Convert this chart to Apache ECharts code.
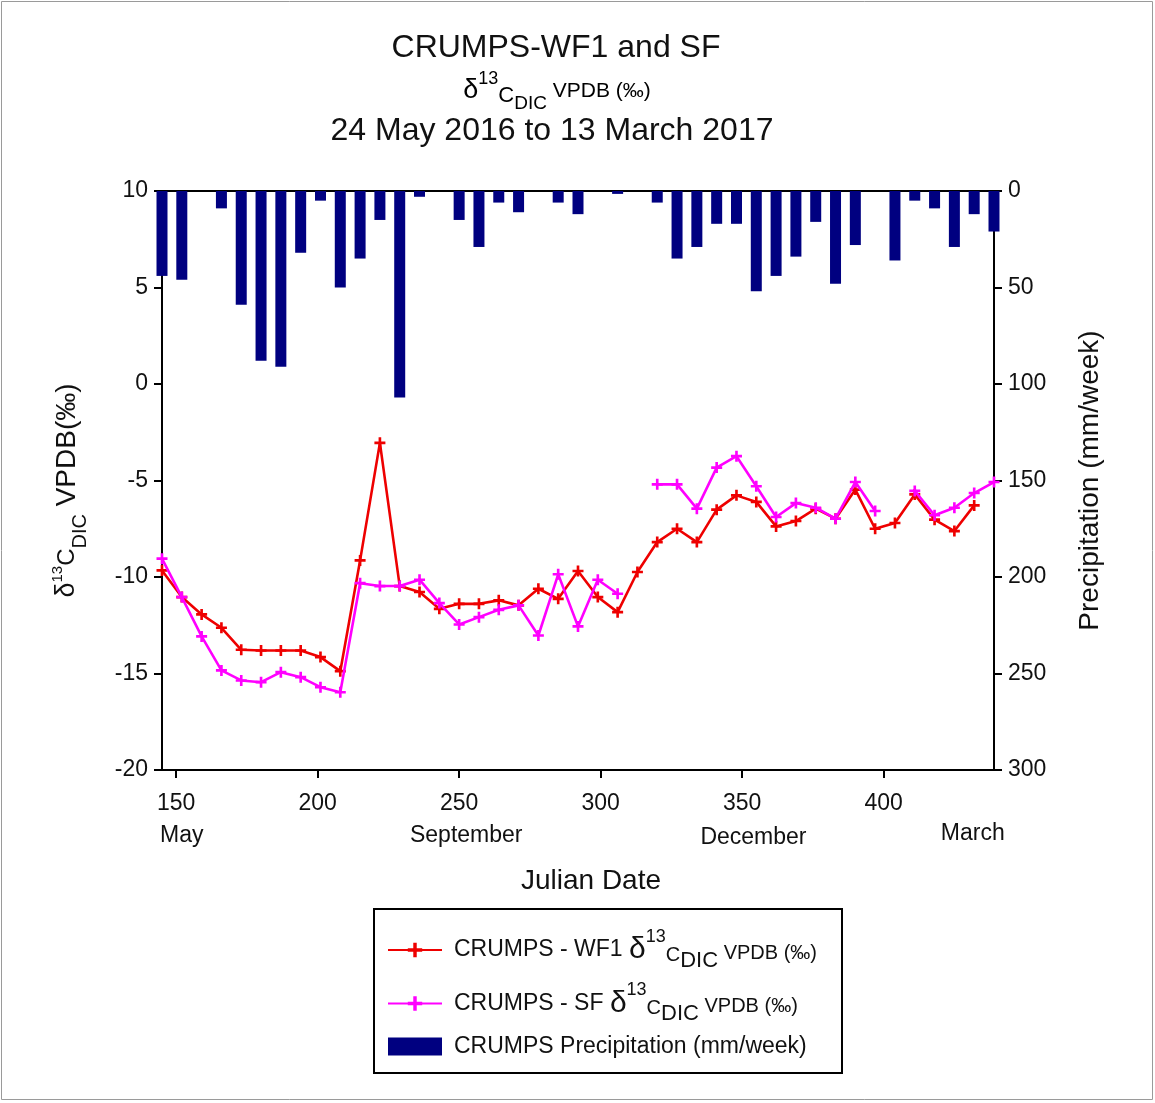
<!DOCTYPE html>
<html>
<head>
<meta charset="utf-8">
<title>CRUMPS-WF1 and SF</title>
<script src="https://cdn.jsdelivr.net/npm/echarts@6/dist/echarts.min.js"></script>
<style>
  html, body { margin: 0; padding: 0; background: #fff; }
  #chart { width: 1155px; height: 1103px; }
</style>
</head>
<body>
<div id="chart"></div>
<script>
// Julian day of each weekly sample (day 1 = 1 Jan 2016)
const weekDays = [145, 152, 159, 166, 173, 180, 187, 194, 201, 208, 215, 222, 229, 236, 243,
  250, 257, 264, 271, 278, 285, 292, 299, 306, 313, 320, 327, 334, 341, 348, 355, 362,
  369, 376, 383, 390, 397, 404, 411, 418, 425, 432, 439];

// Weekly precipitation, mm/week
const precipitation = [44, 46, 0, 9, 59, 88, 91, 32, 5, 50, 35, 15, 107, 3, 0,
  15, 29, 6, 11, 0, 6, 12, 0, 1.5, 0, 6, 35, 29, 17, 17, 52, 44,
  34, 16, 48, 28, 0, 36, 5, 9, 29, 12, 21];

// δ13C DIC (‰ VPDB), WF1 site (no sample on the last date)
const wf1 = [-9.66, -11.04, -11.94, -12.63, -13.77, -13.81, -13.81, -13.81, -14.15, -14.88, -9.14, -3.05, -10.47, -10.78, -11.65,
  -11.39, -11.39, -11.21, -11.47, -10.61, -11.13, -9.69, -11.04, -11.82, -9.74, -8.19, -7.50, -8.19, -6.51, -5.77, -6.11, -7.38,
  -7.10, -6.46, -6.98, -5.47, -7.50, -7.20, -5.72, -7.03, -7.62, -6.29, null];

// δ13C DIC (‰ VPDB), SF site (null = no sample)
const sf = [-9.05, -11.04, -13.08, -14.84, -15.36, -15.45, -14.93, -15.19, -15.71, -15.97, -10.32, -10.47, -10.47, -10.14, -11.35,
  -12.46, -12.08, -11.70, -11.47, -13.03, -9.86, -12.56, -10.14, -10.87, null, -5.20, -5.20, -6.46, -4.33, -3.74, -5.30, -6.89,
  -6.17, -6.41, -6.98, -5.08, -6.58, null, -5.54, -6.80, -6.41, -5.65, -5.08];

const xTicks = [150, 200, 250, 300, 350, 400];
const monthNames = ['May', 'September', 'December', 'March'];
const monthDays = [152, 252.5, 354, 431.5];

const FONT = '"Liberation Sans", Arial, sans-serif';
const INK = '#111';

const pairs = (ys) => weekDays.map((d, i) => [d, ys[i]]);

// plus-shaped marker
const PLUS = 'path://M-1.2,-5H1.2V-1.2H5V1.2H1.2V5H-1.2V1.2H-5V-1.2H-1.2Z';

// rich-text token style helper: size and [top, right, bottom, left] padding
const tok = (size, pad) => ({ fontFamily: FONT, fontSize: size, color: INK, padding: pad || 0 });

const titleRich = {
  d: tok(27),
  sup: tok(18, [0, 0, 24, 0]),
  c: tok(22, [10, 0, 0, 0]),
  sub: tok(19, [26, 0, 0, 0]),
  v: tok(21)
};

const legendRich = {
  t: tok(23, [0, 0, 0, 7]),
  d: tok(30),
  sup: tok(18, [0, 0, 26, 0]),
  c: tok(20, [10, 0, 0, 0]),
  sub: tok(22, [21, 0, 0, 0]),
  v: tok(20, [6, 0, 0, 0]),
  p: Object.assign(tok(23, [0, 0, 0, 7]), { lineHeight: 18 })
};

const yNameRich = {
  d: tok(27),
  sup: tok(15, [0, 0, 18, 0]),
  c: tok(24),
  sub: tok(20, [26, 0, 0, 0]),
  t: tok(28)
};

const chart = echarts.init(document.getElementById('chart'), null, { renderer: 'canvas' });

const grid = { left: 162, right: 161, top: 191, bottom: 333 };
const plotW = 1155 - grid.left - grid.right;
const xMin = 145, xMax = 439;
const xPix = (d) => grid.left + (d - xMin) / (xMax - xMin) * plotW;
const monthY = [836, 836, 838, 834];

const axisLineStyle = { color: '#000', width: 2 };

const option = {
  backgroundColor: '#fff',
  animation: false,
  textStyle: { fontFamily: FONT },
  grid: Object.assign({ show: true, borderColor: '#000', borderWidth: 2, backgroundColor: 'transparent' }, grid),
  xAxis: {
    type: 'value',
    min: xMin,
    max: xMax,
    splitLine: { show: false },
    axisLine: { show: true, onZero: false, lineStyle: axisLineStyle },
    axisTick: { show: true, length: 8, customValues: xTicks, lineStyle: axisLineStyle },
    axisLabel: { customValues: xTicks, margin: 22, fontSize: 23, color: INK, fontFamily: FONT },
    name: 'Julian Date',
    nameLocation: 'middle',
    nameGap: 97,
    nameTextStyle: { fontSize: 28, color: INK, fontFamily: FONT, padding: [0, 0, 0, 26] }
  },
  yAxis: [
    {
      type: 'value',
      min: -20,
      max: 10,
      interval: 5,
      position: 'left',
      splitLine: { show: false },
      axisLine: { show: true, onZero: false, lineStyle: axisLineStyle },
      axisTick: { show: true, length: 8, lineStyle: axisLineStyle },
      axisLabel: { margin: 14, fontSize: 23, color: INK, fontFamily: FONT },
      name: '{d|δ}{sup|13}{c|C}{sub|DIC}{t| VPDB(‰)}',
      nameLocation: 'middle',
      nameRotate: 90,
      nameGap: 72,
      nameTextStyle: { rich: yNameRich, padding: [0, 20, 0, 0] }
    },
    {
      type: 'value',
      min: 0,
      max: 300,
      interval: 50,
      inverse: true,
      position: 'right',
      splitLine: { show: false },
      axisLine: { show: true, onZero: false, lineStyle: axisLineStyle },
      axisTick: { show: true, length: 8, lineStyle: axisLineStyle },
      axisLabel: { margin: 14, fontSize: 23, color: INK, fontFamily: FONT },
      name: 'Precipitation (mm/week)',
      nameLocation: 'middle',
      nameRotate: 90,
      nameGap: 82,
      nameTextStyle: { fontSize: 28, color: INK, fontFamily: FONT }
    }
  ],
  legend: {
    orient: 'vertical',
    left: 374,
    top: 909,
    padding: [19, 25, 15, 13],
    borderColor: '#000',
    borderWidth: 2,
    itemWidth: 54,
    itemHeight: 18,
    itemGap: 10,
    selectedMode: false,
    data: [
      { name: 'CRUMPS - WF1' },
      { name: 'CRUMPS - SF' },
      { name: 'CRUMPS Precipitation (mm/week)', icon: 'rect' }
    ],
    formatter: (name) => name.startsWith('CRUMPS Precipitation')
      ? '{p|' + name + '}'
      : '{t|' + name + ' }{d|δ}{sup|13}{c|C}{sub|DIC}{v| VPDB (‰)}',
    textStyle: { rich: legendRich, color: INK }
  },
  graphic: [
    {
      type: 'rect', silent: true,
      shape: { x: 1.5, y: 1.5, width: 1151, height: 1098 },
      style: { fill: 'none', stroke: '#9a9a9a', lineWidth: 1 }
    },
    {
      type: 'text', x: 556, y: 48,
      style: { text: 'CRUMPS-WF1 and SF', font: '32px ' + FONT, fill: INK, align: 'center', verticalAlign: 'middle' }
    },
    {
      type: 'text', x: 557, y: 91,
      style: {
        text: '{d|δ}{sup|13}{c|C}{sub|DIC}{v| VPDB (‰)}',
        rich: titleRich, align: 'center', verticalAlign: 'middle'
      }
    },
    {
      type: 'text', x: 552, y: 131,
      style: { text: '24 May 2016 to 13 March 2017', font: '32px ' + FONT, fill: INK, align: 'center', verticalAlign: 'middle' }
    }
  ].concat(monthNames.map((name, i) => ({
    type: 'text',
    x: xPix(monthDays[i]),
    y: monthY[i],
    style: { text: name, font: '23px ' + FONT, fill: INK, align: 'center', verticalAlign: 'middle' }
  }))),
  series: [
    {
      name: 'CRUMPS Precipitation (mm/week)',
      type: 'bar',
      xAxisIndex: 0,
      yAxisIndex: 1,
      barWidth: 11,
      itemStyle: { color: '#000080' },
      data: pairs(precipitation),
      z: 1
    },
    {
      name: 'CRUMPS - WF1',
      type: 'line',
      yAxisIndex: 0,
      data: pairs(wf1),
      connectNulls: false,
      symbol: PLUS,
      symbolSize: 11,
      lineStyle: { color: '#ee0000', width: 2.6 },
      itemStyle: { color: '#ee0000' },
      z: 3
    },
    {
      name: 'CRUMPS - SF',
      type: 'line',
      yAxisIndex: 0,
      data: pairs(sf),
      connectNulls: false,
      symbol: PLUS,
      symbolSize: 11,
      lineStyle: { color: '#ff00ff', width: 2.6 },
      itemStyle: { color: '#ff00ff' },
      z: 4
    }
  ]
};

chart.setOption(option);
</script>
</body>
</html>
